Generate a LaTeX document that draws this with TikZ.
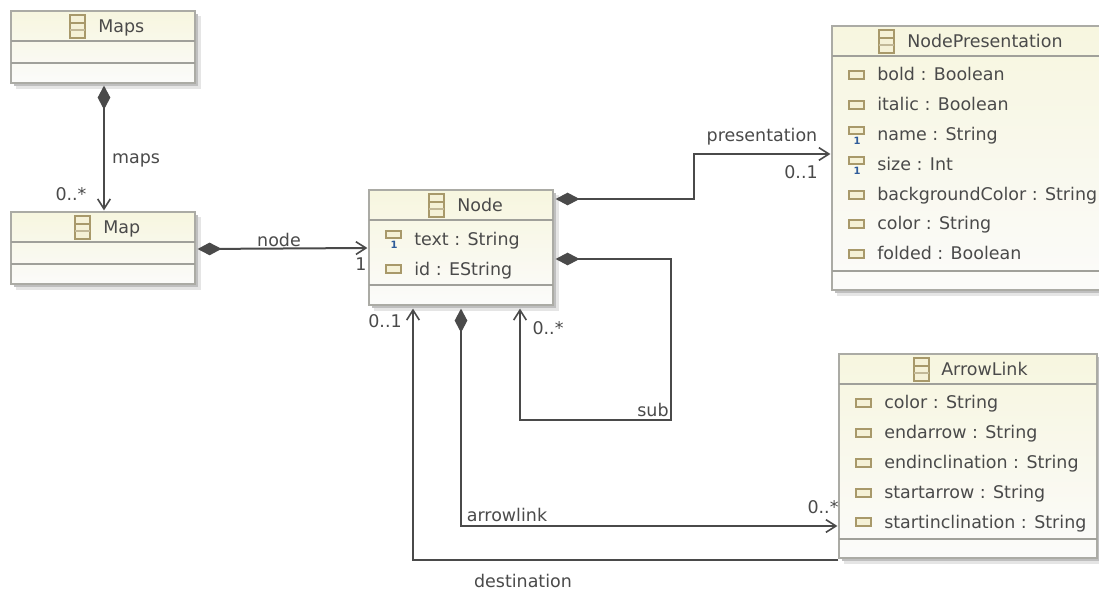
\documentclass[tikz,border=0pt]{standalone}
\usepackage{fontspec}
\setmainfont{DejaVu Sans}
\usetikzlibrary{arrows.meta,calc}
\definecolor{ink}{HTML}{4A4A4A}
\definecolor{boxline}{HTML}{ABABA5}
\definecolor{sepline}{HTML}{A0A09A}
\definecolor{boxtop}{HTML}{F7F6DF}
\definecolor{boxlow}{HTML}{FBFBFA}
\definecolor{gold}{HTML}{A8996A}
\definecolor{goldfill}{HTML}{F5F1D6}
\definecolor{mult}{HTML}{2F5C9A}
\tikzset{
  x=0.75pt,y=-0.75pt,
  conn/.style={draw=ink,line width=1.5pt,line join=miter},
  thin conn/.style={draw=ink,line width=1.3pt},
  comp/.style={{Diamond[length=18pt,width=9.5pt,fill=ink]}-{Straight Barb[length=7.5pt,width=9.5pt,line width=1.2pt]}},
  nav/.style={-{Straight Barb[length=7.5pt,width=9.5pt,line width=1.2pt]}},
  lbl/.style={font=\fontsize{13.1pt}{15pt}\selectfont,text=ink,inner sep=0pt,anchor=base},
  attr/.style={lbl,anchor=base west},
  title/.style={lbl,anchor=base west},
  sep/.style={draw=sepline,line width=0.8pt},
  classbox/.style={rectangle,draw=boxline,line width=0.9pt,inner sep=0pt,top color=boxtop,bottom color=boxlow},
}
% name, x1, y1, x2, y2, header line, compartment line
\newcommand{\umlbox}[7]{%
  \fill[black!10] (#2+5,#3+5) rectangle (#4+6,#5+6);
  \fill[black!25] (#2+3,#3+3) rectangle (#4+3,#5+3);
  \pgfmathsetlengthmacro{\bw}{(#4-#2)*0.75pt}
  \pgfmathsetlengthmacro{\bh}{(#5-#3)*0.75pt}
  \node[classbox,minimum width=\bw,minimum height=\bh] (#1) at ({(#2+#4)/2},{(#3+#5)/2}) {};
  \draw[sep] (#2,#6) -- (#4,#6);
  \draw[sep] (#2,#7) -- (#4,#7);
}
% class icon: left x, top y
\newcommand{\clsicon}[2]{%
  \filldraw[draw=gold,fill=goldfill,line width=1pt] (#1,#2) rectangle (#1+15,#2+23);
  \draw[gold,line width=0.9pt] (#1,#2+8) -- (#1+15,#2+8);
  \draw[gold!70,line width=0.9pt] (#1,#2+15) -- (#1+15,#2+15);
}
% attribute icon: left x, centre y
\newcommand{\atticon}[2]{%
  \filldraw[draw=gold,fill=goldfill,line width=1pt] (#1,#2-4) rectangle (#1+15,#2+4);
}
% required attribute icon: left x, top y of rectangle
\newcommand{\reqicon}[2]{%
  \filldraw[draw=gold,fill=goldfill,line width=1pt] (#1,#2-1) rectangle (#1+15,#2+6);
  \node[inner sep=0pt,text=mult,font=\bfseries\fontsize{7.5pt}{8pt}\selectfont] at (#1+8,#2+13) {1};
}
\begin{document}
\begin{tikzpicture}
\useasboundingbox (0,0) rectangle (1099,589);
\fill[white] (0,0) rectangle (1099,589);
\begin{scope}
\clip (0,0) rectangle (1099,589);
\umlbox{maps}{11}{11}{195}{83}{41}{63}
\umlbox{map}{11}{212}{195}{284}{242}{264}
\umlbox{nodeb}{369}{190}{553}{305}{220}{285}
\umlbox{pres}{832}{26}{1110}{290}{56}{271}
\umlbox{alink}{839}{354}{1097}{558}{384}{539}
\end{scope}
% Maps
\clsicon{70}{15}
\node[title] (tmaps) at (98,32) {Maps};
% Map
\clsicon{75}{216}
\node[title] (tmap) at (103,233) {Map};
% Node
\clsicon{429}{194}
\node[title] (tnode) at (457,211) {Node};
\reqicon{386}{232}
\node[attr] (ntext) at (414,245) {text : String};
\atticon{386}{269}
\node[attr] (nid) at (414,275) {id : EString};
% NodePresentation
\clsicon{879}{30}
\node[title] (tpres) at (907,47) {NodePresentation};
\atticon{849}{75}
\node[attr] (p1) at (877,80) {bold : Boolean};
\atticon{849}{105}
\node[attr] (p2) at (877,110) {italic : Boolean};
\reqicon{849}{128}
\node[attr] (p3) at (877,140) {name : String};
\reqicon{849}{158}
\node[attr] (p4) at (877,170) {size : Int};
\atticon{849}{195}
\node[attr] (p5) at (877,200) {backgroundColor : String};
\atticon{849}{224}
\node[attr] (p6) at (877,229) {color : String};
\atticon{849}{254}
\node[attr] (p7) at (877,259) {folded : Boolean};
% ArrowLink
\clsicon{914}{358}
\node[title] (tal) at (941,375) {ArrowLink};
\atticon{856}{403}
\node[attr] (a1) at (884,408) {color : String};
\atticon{856}{433}
\node[attr] (a2) at (884,438) {endarrow : String};
\atticon{856}{463}
\node[attr] (a3) at (884,468) {endinclination : String};
\atticon{856}{493}
\node[attr] (a4) at (884,498) {startarrow : String};
\atticon{856}{522}
\node[attr] (a5) at (884,528) {startinclination : String};
% connectors
\coordinate (b1) at (694,199);
\coordinate (b2) at (694,154);
\coordinate (s1) at (671,259);
\coordinate (s2) at (671,420);
\coordinate (s3) at (520,420);
\coordinate (al1) at (461,526);
\coordinate (d1) at (413,560);
\draw[conn,comp] (maps.south -| 104,0) ++(0,2) -- ($(map.north -| 104,0)+(0,-1)$);
\draw[conn,comp] ($(map.east)+(2,1)$) -- ($(nodeb.west |- 0,248)+(-1,0)$);
\draw[conn,comp] ($(nodeb.east |- b1)+(2,0)$) -- (b1) -- (b2) -- ($(pres.west |- b2)+(-1,0)$);
\draw[conn,comp] ($(nodeb.east |- s1)+(2,0)$) -- (s1) -- (s2) -- (s3) -- ($(nodeb.south -| s3)+(0,3)$);
\draw[thin conn,comp] ($(nodeb.south -| al1)+(0,3)$) -- (al1) -- ($(alink.west |- al1)+(-1,0)$);
\draw[conn,nav] (alink.west |- d1) -- (d1) -- ($(nodeb.south -| d1)+(0,3)$);
% labels
\node[lbl] (lmaps) at (136,163) {maps};
\node[lbl] (mmaps) at (71,200) {0..*};
\node[lbl] (lnode) at (279,246) {node};
\node[lbl] (mnode) at (361,270) {1};
\node[lbl] (lpres) at (762,141) {presentation};
\node[lbl] (mpres) at (801,178) {0..1};
\node[lbl] (ldst) at (385,327) {0..1};
\node[lbl] (msub) at (548,334) {0..*};
\node[lbl] (lsub) at (653,416) {sub};
\node[lbl] (lal) at (507,521) {arrowlink};
\node[lbl] (mal) at (823,513) {0..*};
\node[lbl] (ldest) at (523,587) {destination};
\end{tikzpicture}
\end{document}
